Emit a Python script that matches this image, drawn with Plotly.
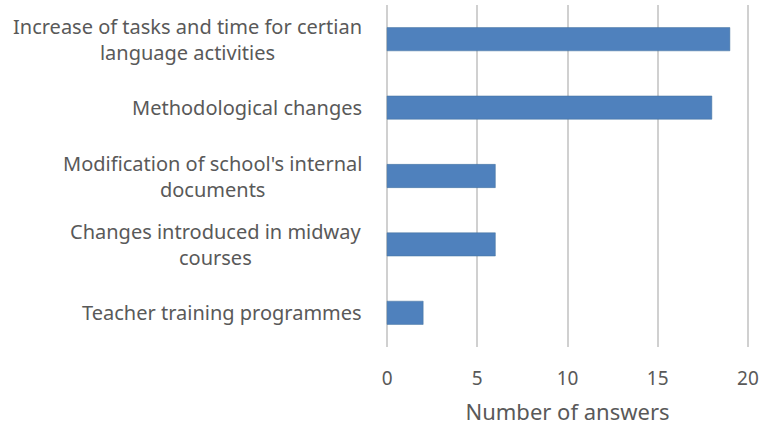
import plotly.graph_objects as go

categories = [
    "Increase of tasks and time for certian<br>language activities",
    "Methodological changes",
    "Modification of school's internal<br>documents",
    "Changes introduced in midway<br>courses",
    "Teacher training programmes",
]
answers = [19, 18, 6, 6, 2]
x_ticks = [0, 5, 10, 15, 20]

text_grey = "#595959"
font_family = "Noto Sans, Open Sans, sans-serif"

fig = go.Figure(go.Bar(
    y=categories, x=answers, orientation="h",
    marker=dict(color="#4F81BD", line=dict(color="#41719C", width=0.5)),
    width=0.34,
))

# centred multi-line category labels, like the original spreadsheet chart
for cat in categories:
    fig.add_annotation(
        x=-0.06, xref="paper", y=cat, yref="y",
        text=cat, showarrow=False, xanchor="right", align="center",
        font=dict(size=20, color=text_grey, family=font_family),
    )

fig.update_layout(
    width=764, height=426,
    margin=dict(l=386, r=15, t=5, b=79, autoexpand=False),
    paper_bgcolor="white", plot_bgcolor="white",
    showlegend=False,
    font=dict(family=font_family, color=text_grey),
    xaxis=dict(
        range=[-0.06, 20.06], tickvals=x_ticks, showgrid=True,
        gridcolor="#D0D0D0", gridwidth=2, zeroline=False,
        tickfont=dict(size=19, color=text_grey), automargin=False,
        ticklabelstandoff=18,
        title=dict(text="Number of answers", font=dict(size=22, color=text_grey), standoff=14),
        ticks="", showline=False,
    ),
    yaxis=dict(
        autorange="reversed", showticklabels=False, showgrid=False,
        zeroline=False, showline=False, automargin=False,
    ),
)

fig.write_html("out.html", config={"displayModeBar": False},
               post_script="document.body.style.margin='0';")
